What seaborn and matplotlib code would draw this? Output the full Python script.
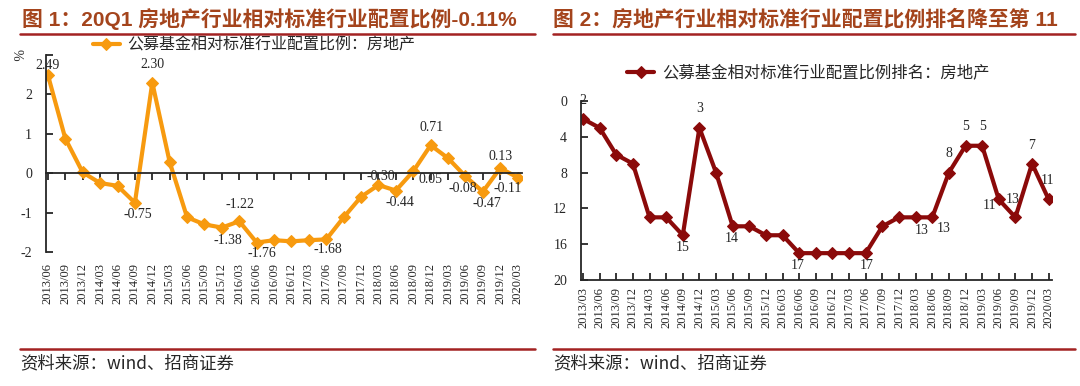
import matplotlib
matplotlib.use('Agg')
import matplotlib.pyplot as plt
import numpy as np
import pandas as pd
import seaborn as sns

# ---- data ----
left_dates = ['2013/06', '2013/09', '2013/12', '2014/03', '2014/06', '2014/09', '2014/12',
              '2015/03', '2015/06', '2015/09', '2015/12', '2016/03', '2016/06', '2016/09',
              '2016/12', '2017/03', '2017/06', '2017/09', '2017/12', '2018/03', '2018/06',
              '2018/09', '2018/12', '2019/03', '2019/06', '2019/09', '2019/12', '2020/03']
left_values = [2.49, 0.88, 0.02, -0.25, -0.32, -0.75, 2.30, 0.28, -1.12, -1.30, -1.38, -1.22,
               -1.76, -1.70, -1.73, -1.70, -1.68, -1.12, -0.60, -0.30, -0.44, 0.05, 0.71, 0.38,
               -0.08, -0.47, 0.13, -0.11]
left_labelled = [0, 5, 6, 10, 11, 12, 16, 19, 20, 21, 22, 24, 25, 26, 27]

right_dates = ['2013/03'] + left_dates
right_values = [2, 3, 6, 7, 13, 13, 15, 3, 8, 14, 14, 15, 15, 17, 17, 17, 17, 17, 14, 13, 13, 13,
                8, 5, 5, 11, 13, 7, 11]
right_labelled = [0, 6, 7, 9, 13, 17, 20, 21, 22, 23, 24, 25, 26, 27, 28]

left_title = '图 1：20Q1 房地产行业相对标准行业配置比例-0.11%'
right_title = '图 2：房地产行业相对标准行业配置比例排名降至第 11'
left_legend = '公募基金相对标准行业配置比例：房地产'
right_legend = '公募基金相对标准行业配置比例排名：房地产'
source = '资料来源：wind、招商证券'

# label offsets (pixels) for data labels
left_offsets = {0: (0, 10), 5: (3, -12), 6: (0, 18), 10: (6, -13), 11: (1, 17), 12: (5, -11),
                16: (2, -10), 19: (2, 9), 20: (4, -12), 21: (17, -8), 22: (1, 18), 24: (-3, -12),
                25: (4, -12), 26: (0, 12), 27: (-10, -11)}
right_offsets = {0: (0, 18), 6: (0, -12), 7: (0, 19), 9: (-1, -12), 13: (-2, -12), 17: (1, -12),
                 20: (6, -13), 21: (11, -11), 22: (0, 19), 23: (0, 19), 24: (0, 19), 25: (-9, -6),
                 26: (-3, 18), 27: (0, 18), 28: (-1, 19)}

sns.set_style('ticks')
plt.rcParams['font.family'] = ['Liberation Serif', 'Noto Sans CJK SC']
plt.rcParams['axes.linewidth'] = 1.3

W, H = 1080, 386
fig = plt.figure(figsize=(W / 100, H / 100), dpi=100)

ORANGE = '#F79A0F'
DARKRED = '#8B0A0A'
TITLE_C = '#A4441C'
RULE_C = '#A32222'
CJK = ['Noto Sans CJK SC', 'DejaVu Sans']
TITLE_F = ['Liberation Sans', 'Noto Sans CJK SC']


def fx(px):
    return px / W


def fy(py):
    return 1 - py / H


# ---- titles and rules ----
fig.text(fx(22), fy(19), left_title, fontsize=15, fontweight='bold', color=TITLE_C,
         family=TITLE_F, va='center', ha='left')
fig.text(fx(553), fy(19), right_title, fontsize=15, fontweight='bold', color=TITLE_C,
         family=TITLE_F, va='center', ha='left')
for x0, x1 in [(20, 535), (553, 1075)]:
    fig.add_artist(plt.Line2D([fx(x0), fx(x1)], [fy(34), fy(34)], color=RULE_C, lw=1.8))
    fig.add_artist(plt.Line2D([fx(x0), fx(x1)], [fy(349), fy(349)], color=RULE_C, lw=1.8))
fig.text(fx(20), fy(363), source, fontsize=12.5, family=CJK, va='center', ha='left')
fig.text(fx(553), fy(363), source, fontsize=12.5, family=CJK, va='center', ha='left')

# ---- left chart ----
axL = fig.add_axes([fx(46), fy(252), fx(522 - 46), (252 - 55) / H])
dfL = pd.DataFrame({'x': np.arange(len(left_dates)), 'v': left_values})
sns.lineplot(data=dfL, x='x', y='v', ax=axL, color=ORANGE, lw=3, marker='D', ms=6,
             mec=ORANGE, label=left_legend)
axL.set_xlim(-0.11, 27.25)
axL.set_ylim(-2, 3)
axL.set_yticks([-2, -1, 0, 1, 2, 3])
axL.set_yticklabels(['-2', '-1', '0', '1', '2', ''])
axL.spines['top'].set_visible(False)
axL.spines['right'].set_visible(False)
axL.spines['bottom'].set_position(('data', 0))
axL.set_xticks(np.arange(len(left_dates)))
axL.tick_params(axis='x', direction='out', length=5, width=1.3, labelbottom=False)
axL.tick_params(axis='y', direction='in', length=5, width=1.3, labelsize=10, pad=10)
axL.set_xlabel('')
axL.set_ylabel('')
secL = axL.secondary_xaxis(0)
secL.set_xticks(np.arange(len(left_dates)))
secL.set_xticklabels(left_dates, rotation=90, fontsize=9)
secL.tick_params(length=0, pad=8)
secL.spines['bottom'].set_visible(False)
axL.text(-0.05, 1.0, '%', transform=axL.transAxes, rotation=-90, fontsize=10,
         ha='right', va='center')
for i in left_labelled:
    dx, dy = left_offsets[i]
    axL.annotate(f'{left_values[i]:.2f}', (i, left_values[i]), xytext=(dx * 0.72, dy * 0.72),
                 textcoords='offset points', ha='center', va='center', fontsize=10)
axL.legend(loc='center', bbox_to_anchor=(fx(254), fy(45)), bbox_transform=fig.transFigure,
           frameon=False, prop={'family': CJK, 'size': 11.5}, handlelength=1.7,
           handletextpad=0.45, borderpad=0)

# ---- right chart ----
axR = fig.add_axes([fx(581), fy(280), fx(1052 - 581), (280 - 101) / H])
dfR = pd.DataFrame({'x': np.arange(len(right_dates)), 'v': right_values})
sns.lineplot(data=dfR, x='x', y='v', ax=axR, color=DARKRED, lw=3, marker='D', ms=6,
             mec=DARKRED, label=right_legend)
axR.set_xlim(-0.12, 28.2)
axR.set_ylim(20, 0)
axR.set_yticks([0, 4, 8, 12, 16, 20])
axR.spines['top'].set_visible(False)
axR.spines['right'].set_visible(False)
axR.set_xticks(np.arange(len(right_dates)))
axR.set_xticklabels(right_dates, rotation=90, fontsize=9)
axR.tick_params(axis='x', direction='in', length=5, width=1.3, pad=5)
axR.tick_params(axis='y', direction='in', length=5, width=1.3, labelsize=10, pad=10)
axR.set_xlabel('')
axR.set_ylabel('')
for i in right_labelled:
    dx, dy = right_offsets[i]
    axR.annotate(f'{right_values[i]}', (i, right_values[i]), xytext=(dx * 0.72, dy * 0.72),
                 textcoords='offset points', ha='center', va='center', fontsize=10)
axR.legend(loc='center', bbox_to_anchor=(fx(808), fy(73)), bbox_transform=fig.transFigure,
           frameon=False, prop={'family': CJK, 'size': 11.8}, handlelength=1.7,
           handletextpad=0.45, borderpad=0)

fig.savefig('out.png', dpi=100)
